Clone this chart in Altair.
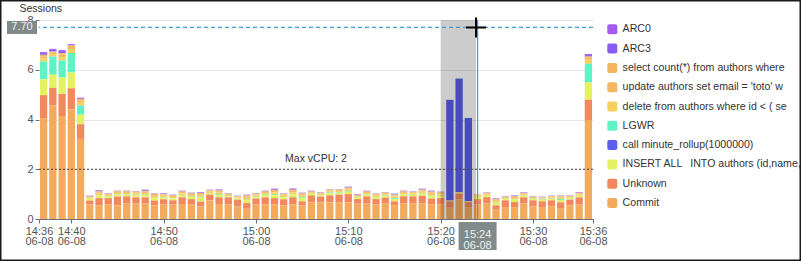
import altair as alt
import pandas as pd

# One bar per minute, 14:37 .. 15:36 on 06-08
minutes = pd.date_range("2024-06-08 14:37", "2024-06-08 15:36", freq="min")

# Average active sessions per wait class / statement (stacked bottom -> top)
commit = [
    4.06, 4.56, 4.14, 4.40, 3.22,
    0.58, 0.55, 0.58, 0.55, 0.64,
    0.62, 0.62, 0.55, 0.58, 0.58,
    0.60, 0.58, 0.50, 0.75, 0.60,
    0.58, 0.51, 0.41, 0.58, 0.58,
    0.58, 0.55, 0.58, 0.55, 0.67,
    0.67, 0.67, 0.67, 0.67, 0.62,
    0.62, 0.58, 0.62, 0.54, 0.62,
    0.62, 0.62, 0.58, 0.58, 0.45,
    0.80, 0.48, 0.58, 0.62, 0.37,
    0.48, 0.48, 0.62, 0.51, 0.48,
    0.51, 0.44, 0.55, 0.58, 3.98,
]
unknown = [
    0.92, 0.71, 0.89, 0.86, 0.59,
    0.16, 0.29, 0.26, 0.35, 0.27,
    0.25, 0.25, 0.19, 0.21, 0.17,
    0.27, 0.22, 0.20, 0.23, 0.27,
    0.29, 0.27, 0.23, 0.24, 0.29,
    0.26, 0.24, 0.29, 0.16, 0.28,
    0.23, 0.28, 0.31, 0.33, 0.18,
    0.29, 0.22, 0.24, 0.17, 0.29,
    0.29, 0.31, 0.24, 0.26, 0.26,
    0.22, 0.20, 0.22, 0.26, 0.18,
    0.27, 0.20, 0.25, 0.24, 0.23,
    0.24, 0.23, 0.23, 0.29, 0.81,
]
insert_all = [
    0.64, 0.53, 0.66, 0.63, 0.38,
    0.08, 0.10, 0.06, 0.08, 0.07,
    0.08, 0.09, 0.10, 0.07, 0.08,
    0.09, 0.08, 0.16, 0.06, 0.10,
    0.05, 0.05, 0.12, 0.07, 0.09,
    0.12, 0.08, 0.11, 0.13, 0.06,
    0.05, 0.08, 0.07, 0.09, 0.06,
    0.07, 0.07, 0.07, 0.09, 0.07,
    0.06, 0.09, 0.10, 0.08, 0.03,
    0.05, 0.03, 0.09, 0.06, 0.10,
    0.05, 0.10, 0.06, 0.05, 0.06,
    0.06, 0.09, 0.05, 0.07, 0.70,
]
minute_rollup = [
    0, 0, 0, 0, 0,
    0, 0, 0, 0, 0,
    0, 0, 0, 0, 0,
    0, 0, 0, 0, 0,
    0, 0, 0, 0, 0,
    0, 0, 0, 0, 0,
    0, 0, 0, 0, 0,
    0, 0, 0, 0, 0,
    0, 0, 0, 0, 4.05,
    4.57, 3.35, 0, 0, 0,
    0, 0, 0, 0, 0,
    0, 0, 0, 0, 0,
]
lgwr = [
    0.71, 0.73, 0.68, 0.78, 0.37,
    0.00, 0.01, 0.01, 0.01, 0.02,
    0.02, 0.02, 0.01, 0.02, 0.01,
    0.01, 0.02, 0.02, 0.01, 0.03,
    0.01, 0.00, 0.01, 0.01, 0.02,
    0.03, 0.01, 0.02, 0.03, 0.01,
    0.01, 0.03, 0.02, 0.02, 0.01,
    0.01, 0.01, 0.01, 0.04, 0.01,
    0.01, 0.02, 0.02, 0.01, 0.00,
    0.02, 0.00, 0.00, 0.01, 0.02,
    0.01, 0.01, 0.01, 0.01, 0.02,
    0.01, 0.04, 0.01, 0.01, 0.75,
]
delete_from = [
    0.12, 0.10, 0.14, 0.16, 0.14,
    0.04, 0.07, 0.05, 0.06, 0.05,
    0.06, 0.07, 0.07, 0.06, 0.05,
    0.06, 0.06, 0.07, 0.05, 0.07,
    0.04, 0.04, 0.08, 0.05, 0.06,
    0.08, 0.06, 0.08, 0.07, 0.04,
    0.04, 0.05, 0.05, 0.07, 0.05,
    0.05, 0.06, 0.05, 0.07, 0.05,
    0.05, 0.06, 0.07, 0.06, 0.00,
    0.00, 0.00, 0.05, 0.05, 0.06,
    0.04, 0.06, 0.05, 0.04, 0.04,
    0.05, 0.06, 0.04, 0.05, 0.16,
]
update_authors = [
    0.08, 0.06, 0.10, 0.08, 0.07,
    0.03, 0.05, 0.03, 0.04, 0.04,
    0.04, 0.05, 0.05, 0.04, 0.04,
    0.05, 0.04, 0.05, 0.04, 0.05,
    0.03, 0.03, 0.06, 0.04, 0.04,
    0.06, 0.04, 0.06, 0.05, 0.03,
    0.03, 0.04, 0.04, 0.05, 0.03,
    0.04, 0.04, 0.04, 0.04, 0.04,
    0.03, 0.05, 0.05, 0.05, 0.00,
    0.00, 0.00, 0.03, 0.03, 0.04,
    0.03, 0.04, 0.03, 0.03, 0.03,
    0.03, 0.04, 0.03, 0.03, 0.08,
]
select_count = [
    0.07, 0.04, 0.06, 0.06, 0.06,
    0.02, 0.04, 0.02, 0.03, 0.03,
    0.03, 0.03, 0.04, 0.03, 0.02,
    0.03, 0.03, 0.04, 0.02, 0.03,
    0.02, 0.02, 0.04, 0.03, 0.03,
    0.04, 0.03, 0.04, 0.04, 0.02,
    0.02, 0.03, 0.02, 0.03, 0.02,
    0.03, 0.03, 0.03, 0.03, 0.03,
    0.03, 0.03, 0.04, 0.03, 0.00,
    0.00, 0.00, 0.02, 0.02, 0.03,
    0.01, 0.03, 0.02, 0.01, 0.02,
    0.02, 0.03, 0.02, 0.02, 0.05,
]
arc3 = [
    0.07, 0.07, 0.08, 0.04, 0.03,
    0.02, 0.03, 0.01, 0.01, 0.01,
    0.01, 0.03, 0.01, 0.02, 0.02,
    0.02, 0.02, 0.02, 0.01, 0.02,
    0.01, 0.01, 0.02, 0.01, 0.02,
    0.03, 0.01, 0.03, 0.02, 0.02,
    0.01, 0.01, 0.01, 0.02, 0.02,
    0.02, 0.01, 0.01, 0.02, 0.02,
    0.01, 0.02, 0.02, 0.02, 0.00,
    0.00, 0.00, 0.01, 0.01, 0.02,
    0.01, 0.02, 0.02, 0.01, 0.01,
    0.01, 0.01, 0.01, 0.02, 0.06,
]
arc0 = [
    0.04, 0.04, 0.04, 0.03, 0.02,
    0.01, 0.02, 0.01, 0.01, 0.01,
    0.01, 0.02, 0.01, 0.01, 0.01,
    0.01, 0.01, 0.02, 0.01, 0.02,
    0.01, 0.01, 0.01, 0.01, 0.01,
    0.02, 0.01, 0.02, 0.01, 0.01,
    0.01, 0.01, 0.01, 0.02, 0.01,
    0.01, 0.01, 0.01, 0.02, 0.01,
    0.01, 0.02, 0.02, 0.01, 0.00,
    0.00, 0.00, 0.00, 0.01, 0.01,
    0.01, 0.01, 0.01, 0.01, 0.01,
    0.01, 0.01, 0.01, 0.01, 0.04,
]

# Legend order (top -> bottom) and colours
series_names = [
    "ARC0",
    "ARC3",
    "select count(*) from authors where",
    "update authors set email = 'toto' w",
    "delete from authors where id < ( se",
    "LGWR",
    "call minute_rollup(1000000)",
    "INSERT ALL\u00a0\u00a0\u2009INTO authors (id,name,",
    "Unknown",
    "Commit",
]
series_colors = [
    "#A45CF0", "#8A5DF2", "#F2B45E", "#F3B862", "#F5CF5E",
    "#5FF2C4", "#5A5EEB", "#E4F262", "#F2895E", "#F2AA5F",
]
series_values = [
    arc0, arc3, select_count, update_authors, delete_from,
    lgwr, minute_rollup, insert_all, unknown, commit,
]

max_vcpu = 2
pointer_value = 7.70


def dt(h, m, s=0):
    return alt.DateTime(year=2024, month=6, date=8, hours=h, minutes=m, seconds=s)


pointer_time = dt(15, 24)
cursor_time = dt(15, 23, 50)
shade_start = dt(15, 20)
shade_end = dt(15, 23, 50)

rows = []
n = len(series_names)
for i, (name, vals) in enumerate(zip(series_names, series_values)):
    for t, v in zip(minutes, vals):
        if v > 0:
            rows.append({"time": t.strftime("%Y-%m-%dT%H:%M:%S"), "series": name,
                         "sessions": v, "stack": n - i})
df = pd.DataFrame(rows)

FONT = "Liberation Sans"
W, H = 554, 199

x_domain = [dt(14, 36, 30), dt(15, 36, 30)]
x_ticks = [dt(14, 36, 30), dt(14, 40), dt(14, 50), dt(15, 0), dt(15, 10),
           dt(15, 20), dt(15, 30), dt(15, 36, 30)]

x_scale = alt.Scale(domain=x_domain, padding=0)
y_scale = alt.Scale(domain=[0, 8], nice=False, padding=0)

one = pd.DataFrame({"k": [0]})

bars = alt.Chart(df).mark_bar(size=7.3).encode(
    x=alt.X(
        "time:T",
        scale=x_scale,
        axis=alt.Axis(
            values=x_ticks,
            labelExpr="[timeFormat(datum.value, '%H:%M'), timeFormat(datum.value, '%m-%d')]",
            labelOverlap=False,
            labelFlush=False,
            grid=False,
            tickSize=4,
            tickColor="#6E7079",
            domainColor="#6E7079",
            labelColor="#555555",
            labelFontSize=11,
            labelLineHeight=10.5,
            labelPadding=2,
            labelFont=FONT,
            title=None,
        ),
    ),
    y=alt.Y(
        "sessions:Q",
        stack="zero",
        scale=y_scale,
        axis=alt.Axis(
            values=[0, 2, 4, 6, 8],
            tickSize=4,
            tickColor="#6E7079",
            domain=False,
            gridColor="#E6E6E6",
            labelColor="#555555",
            labelFontSize=11,
            labelPadding=2,
            labelFont=FONT,
            title="Sessions",
            titleAngle=0,
            titleX=-20,
            titleY=-12,
            titleAlign="left",
            titleBaseline="middle",
            titleFontWeight="normal",
            titleFontSize=10.5,
            titleColor="#333333",
            titleFont=FONT,
        ),
    ),
    color=alt.Color(
        "series:N",
        scale=alt.Scale(domain=series_names, range=series_colors),
        legend=alt.Legend(
            title=None,
            orient="none",
            legendX=568,
            legendY=4,
            padding=0,
            symbolType="M-0.6,-1H0.6Q1,-1 1,-0.6V0.6Q1,1 0.6,1H-0.6Q-1,1 -1,0.6V-0.6Q-1,-1 -0.6,-1Z",
            symbolSize=100,
            symbolStrokeWidth=0,
            labelOffset=5,
            labelFontSize=10.6,
            labelFont=FONT,
            labelColor="#333333",
            labelLimit=400,
            rowPadding=8.3,
        ),
    ),
    order=alt.Order("stack:Q", sort="ascending"),
)

shade = alt.Chart(one).mark_rect(color="black", opacity=0.2).encode(
    x=alt.XDatum(shade_start, type="temporal"),
    x2=alt.X2Datum(shade_end),
    y=alt.YDatum(8),
    y2=alt.Y2Datum(0),
)

vcpu_line = alt.Chart(one).mark_rule(color="#444444", strokeDash=[2, 2], strokeWidth=1).encode(
    y=alt.YDatum(max_vcpu)
)
vcpu_text = alt.Chart(one).mark_text(
    fontSize=10.5, font=FONT, color="#333333", dy=-10
).encode(x=alt.value(W / 2), y=alt.YDatum(max_vcpu), text=alt.value(f"Max vCPU: {max_vcpu}"))

h_pointer = alt.Chart(one).mark_rule(color="#3D9DD9", strokeDash=[4, 3], strokeWidth=1.3).encode(
    y=alt.YDatum(pointer_value)
)
v_pointer = alt.Chart(one).mark_rule(color="#3AA0DC", strokeWidth=1.2).encode(
    x=alt.XDatum(pointer_time, type="temporal")
)

y_label_box = alt.Chart(one).mark_rect(
    color="#7F8A89", yOffset=-6.5, y2Offset=6.5
).encode(x=alt.value(-32), x2=alt.value(-2), y=alt.YDatum(pointer_value), y2=alt.Y2Datum(pointer_value))
y_label_text = alt.Chart(one).mark_text(fontSize=11, font=FONT, color="#F0F0F0").encode(
    x=alt.value(-17), y=alt.YDatum(pointer_value), text=alt.value(f"{pointer_value:.2f}")
)

x_label_box = alt.Chart(one).mark_rect(
    color="#7F8A89", xOffset=-19, x2Offset=19
).encode(x=alt.XDatum(pointer_time, type="temporal"), x2=alt.X2Datum(pointer_time),
         y=alt.value(H + 3), y2=alt.value(H + 31))
x_label_text = alt.Chart(one).mark_text(
    fontSize=11, font=FONT, color="#F0F0F0", lineHeight=10.5, baseline="middle"
).encode(x=alt.XDatum(pointer_time, type="temporal"), y=alt.value(H + 16),
         text=alt.value(["15:24", "06-08"]))

cursor = alt.Chart(one).mark_point(
    shape="M-1,0L1,0M0,-1L0,1", size=400, strokeWidth=2, color="black", filled=False, opacity=1
).encode(x=alt.XDatum(cursor_time, type="temporal"), y=alt.YDatum(pointer_value))

frame = alt.Chart(one).mark_rect(fill=None, stroke="#1A1A1A", strokeWidth=1.5).encode(
    x=alt.value(-38.25), x2=alt.value(761.25), y=alt.value(-19.25), y2=alt.value(240.25)
)

chart = alt.layer(
    bars, shade, vcpu_line, vcpu_text, h_pointer, v_pointer,
    y_label_box, y_label_text, x_label_box, x_label_text, cursor, frame,
).properties(
    width=W,
    height=H,
    autosize=alt.AutoSizeParams(type="none"),
    padding={"left": 39, "top": 20, "right": 208, "bottom": 42},
    background="white",
).configure_view(stroke=None)

chart.save("out.html", embed_options={"renderer": "svg", "actions": False})
